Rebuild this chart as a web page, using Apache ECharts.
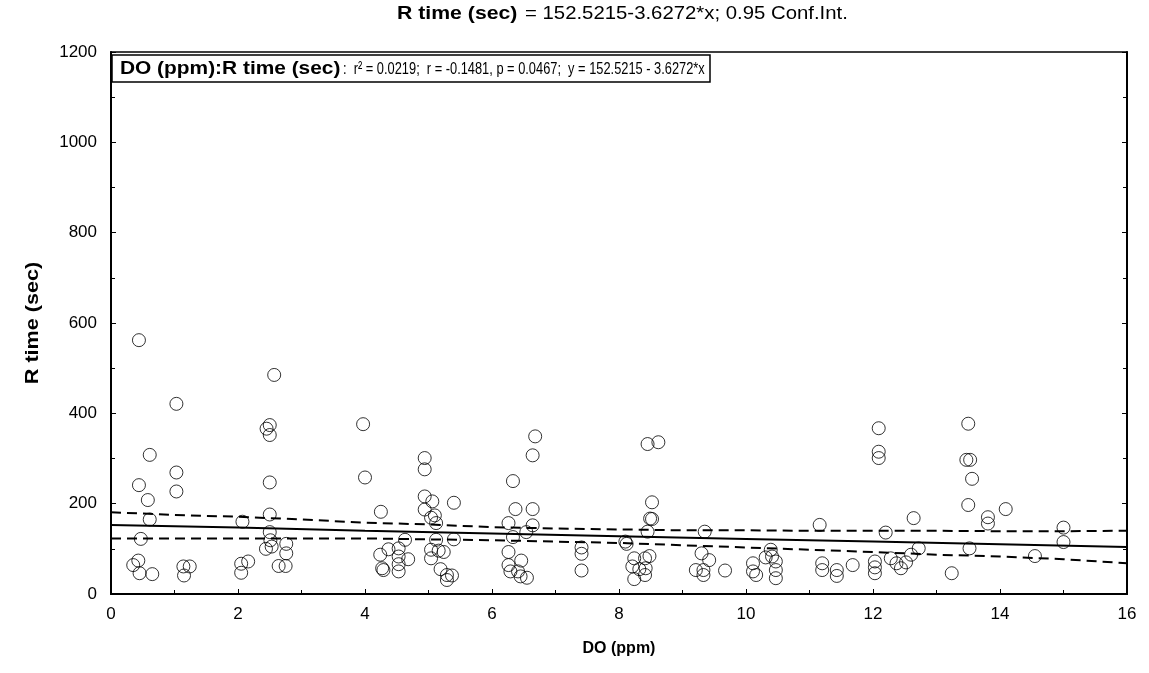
<!DOCTYPE html>
<html>
<head>
<meta charset="utf-8">
<script src="https://cdn.jsdelivr.net/npm/echarts@6/dist/echarts.min.js"></script>
<style>
html,body{margin:0;padding:0;background:#fff;}
#chart{width:1149px;height:673px;}
</style>
</head>
<body>
<div id="chart"></div>
<script>
// Observed points: DO (ppm) and R time (sec)
const doPpm = [
  0.44,0.44,0.61,0.58,0.61,0.47,0.35,0.43,0.45,0.65,
  1.03,1.03,1.03,1.14,1.24,1.15,
  2.07,2.05,2.16,2.05,
  2.57,2.50,2.45,2.50,2.50,2.50,2.50,2.51,2.53,2.44,2.76,2.76,2.64,2.75,
  3.97,4.00,4.25,4.24,4.37,4.53,4.63,4.53,4.68,4.27,4.29,4.53,4.53,
  4.94,4.94,4.94,5.06,4.94,5.10,5.04,5.12,5.40,5.40,5.12,5.04,5.16,5.24,5.04,5.19,5.29,5.37,5.29,
  6.33,6.68,6.64,6.37,6.64,6.26,6.64,6.54,6.33,6.26,6.26,6.29,6.46,6.41,6.45,6.55,
  7.41,7.41,7.41,
  8.45,8.62,8.52,8.49,8.52,8.45,8.10,8.12,8.24,8.41,8.48,8.21,8.32,8.42,8.41,8.24,
  9.35,9.30,9.42,9.21,9.33,9.33,9.67,
  10.11,10.11,10.16,10.31,10.41,10.47,10.47,10.47,10.39,
  11.16,11.20,11.20,11.43,11.43,11.68,
  12.09,12.09,12.09,12.20,12.03,12.03,12.03,12.28,12.37,12.44,12.52,12.60,12.72,12.64,
  13.24,13.50,13.47,13.53,13.56,13.50,13.52,13.81,13.81,14.09,
  14.55,15.00,15.00
];
const rTime = [
  562,241,308,208,165,122,64,74,46,44,
  421,269,227,61,61,41,
  160,67,72,47,
  485,374,366,352,247,176,137,119,105,100,111,90,62,62,
  376,258,182,87,99,101,120,83,77,57,53,66,50,
  301,276,216,205,187,174,169,157,202,121,120,98,96,93,79,55,42,41,31,
  250,349,307,188,188,157,152,137,126,93,64,50,74,50,39,36,
  103,89,52,
  332,336,203,167,166,138,116,111,79,79,84,61,55,57,42,33,
  138,90,75,53,53,42,52,
  68,50,42,81,83,72,53,35,98,
  153,68,53,53,40,64,
  367,315,301,136,72,59,46,79,68,57,70,87,101,168,
  46,377,297,297,255,197,101,170,156,188,
  84,147,115
];
// Fitted line and 0.95 confidence band
const fitX   = [0, 2, 4, 6, 8, 10, 12, 14, 16];
const fitY   = [153, 147, 140, 134, 128, 122, 116, 110, 104];
const bandX  = [0, 1, 2, 3, 4, 5, 6, 7, 8, 9, 10, 11, 12, 13, 14, 15, 16];
const upperY = [181, 175, 171, 165, 158, 154, 148, 145, 143, 141, 141, 140, 140, 140, 139, 139, 140];
const lowerY = [123, 123, 123, 123, 123, 121, 119, 116, 113, 108, 103, 98, 93, 87, 83, 77, 68];

// Texts
const titleBold = 'R time (sec)';
const titleRest = '= 152.5215-3.6272*x; 0.95 Conf.Int.';
const boxBold = 'DO (ppm):R time (sec)';
const boxRest = ':  r² = 0.0219;  r = -0.1481, p = 0.0467;  y = 152.5215 - 3.6272*x';
const xName = 'DO (ppm)';
const yName = 'R time (sec)';

const pts = doPpm.map((x, i) => [x, rTime[i]]);
const zip = (xs, ys) => xs.map((x, i) => [x, ys[i]]);

const FAM = '"Liberation Sans", Arial, sans-serif';
const FONT = FAM;
function txt(text, x, y, font, sx) {
  return {
    type: 'text', x: x, y: y, scaleX: sx, z: 20,
    style: { text: text, font: font, fill: '#000', align: 'left', verticalAlign: 'middle',
             textAlign: 'left', textVerticalAlign: 'middle' }
  };
}

const chart = echarts.init(document.getElementById('chart'));
chart.setOption({
  backgroundColor: '#fff',
  animation: false,
  graphic: [
    txt(titleBold, 397, 14, 'bold 18px ' + FAM, 1.18),
    txt(titleRest, 525, 14, '18px ' + FAM, 1.13),
    { type: 'rect', z: 19, shape: { x: 112, y: 55, width: 598, height: 27 },
      style: { fill: '#fff', stroke: '#000', lineWidth: 1.5 } },
    txt(boxBold, 120, 69, 'bold 18px ' + FAM, 1.16),
    txt(boxRest, 343, 69, '17px ' + FAM, 0.755),
    { type: 'text', x: 33, y: 323, rotation: Math.PI / 2, scaleX: 1.2, z: 20,
      style: { text: yName, font: 'bold 18px ' + FAM, fill: '#000', align: 'center', verticalAlign: 'middle',
               textAlign: 'center', textVerticalAlign: 'middle' } }
  ],
  grid: {
    left: 111, right: 22, top: 52, bottom: 79,
    show: true, borderColor: '#000', borderWidth: 1.5, backgroundColor: 'transparent'
  },
  xAxis: {
    type: 'value', min: 0, max: 16, interval: 2,
    name: xName, nameLocation: 'middle', nameGap: 47,
    nameTextStyle: { fontFamily: FONT, fontSize: 16, fontWeight: 'bold', color: '#000' },
    axisLine: { show: true, lineStyle: { color: '#000', width: 2 } },
    axisTick: { show: true, inside: true, length: 5, lineStyle: { color: '#000' } },
    minorTick: { show: true, splitNumber: 2, length: 4, lineStyle: { color: '#000' } },
    axisLabel: { fontFamily: FONT, fontSize: 17, color: '#000', margin: 12 },
    splitLine: { show: false }
  },
  yAxis: [{
    type: 'value', min: 0, max: 1200, interval: 200,
    axisLine: { show: true, lineStyle: { color: '#000', width: 2 } },
    axisTick: { show: true, inside: true, length: 5, lineStyle: { color: '#000' } },
    minorTick: { show: true, splitNumber: 2, length: 4, lineStyle: { color: '#000' } },
    axisLabel: { fontFamily: FONT, fontSize: 17, color: '#000', margin: 14, formatter: v => String(v) },
    splitLine: { show: false }
  }, {
    type: 'value', min: 0, max: 1200, interval: 200, position: 'right',
    axisLine: { show: true, lineStyle: { color: '#000', width: 2 } },
    axisTick: { show: true, inside: true, length: 5, lineStyle: { color: '#000' } },
    minorTick: { show: true, splitNumber: 2, length: 4, lineStyle: { color: '#000' } },
    axisLabel: { show: false },
    splitLine: { show: false }
  }],
  series: [{
    type: 'line', data: zip(bandX, upperY), showSymbol: false, symbol: 'none',
    lineStyle: { color: '#000', width: 2, type: [10, 6] }, z: 3
  }, {
    type: 'line', data: zip(bandX, lowerY), showSymbol: false, symbol: 'none',
    lineStyle: { color: '#000', width: 2, type: [10, 6] }, z: 3
  }, {
    type: 'line', data: zip(fitX, fitY), showSymbol: false, symbol: 'none',
    lineStyle: { color: '#000', width: 2 }, z: 3
  }, {
    type: 'scatter', data: pts, symbol: 'circle', symbolSize: 13,
    itemStyle: { color: 'rgba(255,255,255,0)', borderColor: '#000', borderWidth: 1 }, z: 4
  }]
});
</script>
</body>
</html>
